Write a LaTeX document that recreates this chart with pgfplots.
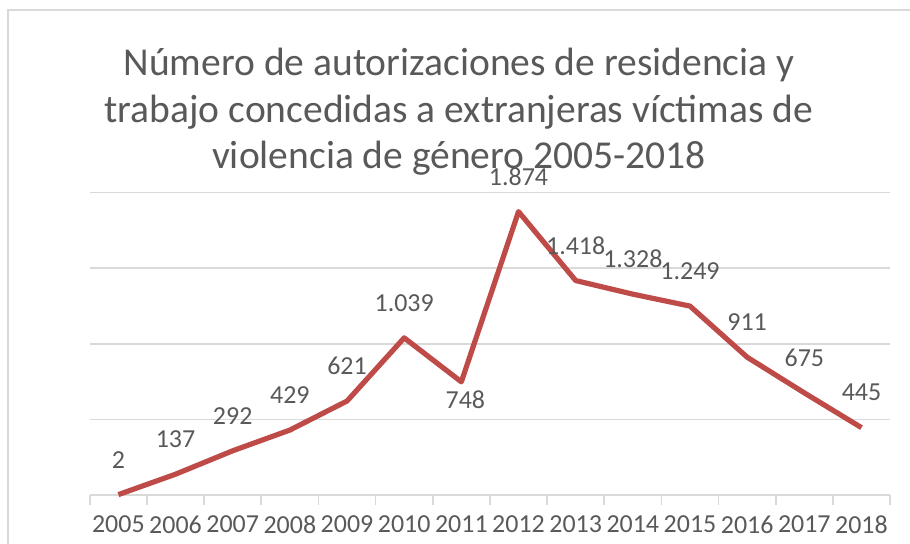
\documentclass[border=0pt]{standalone}
\usepackage{pgfplots}
\pgfplotsset{compat=1.18}
\usepackage{fontspec}
\setmainfont{Carlito}
\definecolor{linered}{HTML}{BE4B48}
\definecolor{txtgray}{HTML}{595959}
\definecolor{gridgray}{HTML}{D9D9D9}
\begin{document}
\begin{tikzpicture}
\begin{axis}[
  name=ax,
  scale only axis,
  width=401pt, height=151.5pt,
  xmin=-0.5, xmax=13.5,
  ymin=0, ymax=2000,
  ytick={0,500,1000,1500,2000},
  yticklabels={},
  ymajorgrids,
  grid style={gridgray, line width=0.8pt},
  major y tick style={draw=none},
  axis x line*=bottom,
  axis y line*=left,
  y axis line style={draw=none},
  x axis line style={gridgray, line width=0.8pt, -},
  xtick={0,...,13},
  xticklabels={2005,2006,2007,2008,2009,2010,2011,2012,2013,2014,2015,2016,2017,2018},
  minor xtick={-0.5,0.5,...,13.5},
  major x tick style={draw=none},
  minor x tick style={gridgray, line width=0.8pt},
  minor tick length=5pt,
  tick align=outside,
  xticklabel style={font=\fontsize{13}{13}\selectfont, text=txtgray, inner sep=0pt, yshift=-6pt},
  /pgf/number format/assume math mode=true,
  clip=false,
]
\addplot[
  linered, line width=2.6pt, line join=round,
  point meta=explicit symbolic,
  nodes near coords,
  every node near coord/.append style={font=\fontsize{13}{13}\selectfont, text=txtgray, anchor=center, inner sep=0pt, yshift=17.5pt},
  coordinate style/.condition={\coordindex==6}{yshift=-26.5pt, xshift=2pt},
] coordinates {
  (0,2) [2]
  (1,137) [137]
  (2,292) [292]
  (3,429) [429]
  (4,621) [621]
  (5,1039) [1.039]
  (6,748) [748]
  (7,1874) [1.874]
  (8,1418) [1.418]
  (9,1328) [1.328]
  (10,1249) [1.249]
  (11,911) [911]
  (12,675) [675]
  (13,445) [445]
};
\end{axis}
\path[use as bounding box] ([xshift=-45pt,yshift=-24.5pt]ax.south west) rectangle ([xshift=10pt,yshift=96.5pt]ax.north east);
\draw[gridgray, line width=0.8pt] ([xshift=-41pt,yshift=-30pt]ax.south west) -- ([xshift=-41pt,yshift=91.5pt]ax.north west) -- ([xshift=20pt,yshift=91.5pt]ax.north east);
\node[align=center, text=txtgray, font=\fontsize{19.8}{23.5}\selectfont] at ([xshift=185pt,yshift=192pt]ax.south west) {Número de autorizaciones de residencia y\\trabajo concedidas a extranjeras víctimas de\\violencia de género 2005-2018};
\end{tikzpicture}
\end{document}
